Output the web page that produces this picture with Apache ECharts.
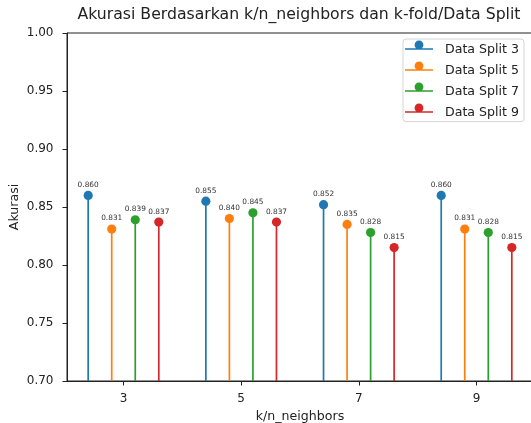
<!DOCTYPE html>
<html>
<head>
<meta charset="utf-8">
<script src="https://cdn.jsdelivr.net/npm/echarts@6/dist/echarts.min.js"></script>
<style>
  html, body { margin: 0; padding: 0; background: #fff; }
  #chart { width: 531px; height: 423px; }
</style>
</head>
<body>
<div id="chart"></div>
<script>
// k values on the x axis
const kNeighbors = [3, 5, 7, 9];
// accuracy per data split, one entry per k
const split3 = [0.860, 0.855, 0.852, 0.860];
const split5 = [0.831, 0.840, 0.835, 0.831];
const split7 = [0.839, 0.845, 0.828, 0.828];
const split9 = [0.837, 0.837, 0.815, 0.815];
const seriesNames = ['Data Split 3', 'Data Split 5', 'Data Split 7', 'Data Split 9'];
const yTicks = [0.70, 0.75, 0.80, 0.85, 0.90, 0.95, 1.00];

const allSplits = [split3, split5, split7, split9];
const colors = ['#1f77b4', '#ff7f0e', '#2ca02c', '#d62728'];
const shifts = [-0.6, -0.2, 0.2, 0.6];
const FONT = 'DejaVu Sans';
const Y_MIN = yTicks[0];

// legend glyph: baseline with the marker sitting on it; the last zero-area
// segment stretches the glyph box down so the baseline sits mid-row
const stemIcon = 'path://M0 8.4H28V9.8H0Z M9.6 5A4.4 4.4 0 1 1 18.4 5A4.4 4.4 0 1 1 9.6 5Z M14 15L14 18.2L14 15Z';

function stemRenderer(color) {
  return function (params, api) {
    const x = api.value(0);
    const v = api.value(1);
    const top = api.coord([x, v]);
    const base = api.coord([x, Y_MIN]);
    return {
      type: 'group',
      children: [
        { type: 'line', shape: { x1: top[0], y1: base[1], x2: top[0], y2: top[1] },
          style: { stroke: color, lineWidth: 1.7 } },
        { type: 'circle', shape: { cx: top[0], cy: top[1], r: 4.6 },
          style: { fill: color } },
        { type: 'text', x: top[0], y: top[1] - 7,
          style: { text: v.toFixed(3), fontSize: 7.4, fontFamily: FONT, fill: '#333',
                   align: 'center', verticalAlign: 'bottom' } }
      ]
    };
  };
}

const series = allSplits.map((vals, s) => ({
  name: seriesNames[s],
  type: 'custom',
  itemStyle: { color: colors[s] },
  renderItem: stemRenderer(colors[s]),
  data: vals.map((v, i) => [kNeighbors[i] + shifts[s], v]),
  z: 3
}));

const chart = echarts.init(document.getElementById('chart'), null, { renderer: 'canvas' });
chart.setOption({
  animation: false,
  backgroundColor: '#fff',
  textStyle: { fontFamily: FONT },
  graphic: [{
    type: 'text', x: 299, y: 15,
    style: { text: 'Akurasi Berdasarkan k/n_neighbors dan k-fold/Data Split',
             fontSize: 15.7, fontFamily: FONT, fill: '#222', align: 'center', verticalAlign: 'middle' }
  }],
  grid: { left: 67, top: 33, width: 466, height: 348, show: true,
          outerBoundsMode: 'none', containLabel: false,
          borderColor: '#222', borderWidth: 1, backgroundColor: 'transparent' },
  legend: {
    orient: 'vertical', left: 403, top: 39,
    padding: [1.5, 5, 0.5, 2],
    itemWidth: 28, itemHeight: 17.6, itemGap: 3.4,
    backgroundColor: 'rgba(255,255,255,0.85)',
    borderColor: '#d5d5d5', borderWidth: 1, borderRadius: 3,
    textStyle: { fontSize: 12.6, fontFamily: FONT, color: '#222', padding: [0, 0, 0, 7] },
    data: seriesNames.map(n => ({ name: n, icon: stemIcon }))
  },
  xAxis: {
    type: 'value', min: 2.04, max: 9.96,
    name: 'k/n_neighbors', nameLocation: 'middle', nameGap: 29,
    nameTextStyle: { fontSize: 12.6, fontFamily: FONT, color: '#222' },
    axisLine: { show: true, onZero: false, lineStyle: { color: '#222', width: 1 } },
    axisTick: { show: true, length: 4.5, lineStyle: { color: '#222' }, customValues: kNeighbors },
    axisLabel: { fontSize: 12, fontFamily: FONT, color: '#222', margin: 12, customValues: kNeighbors,
                 formatter: v => String(v) },
    splitLine: { show: false }
  },
  yAxis: {
    type: 'value', min: Y_MIN, max: yTicks[yTicks.length - 1], interval: 0.05,
    name: 'Akurasi', nameLocation: 'middle', nameGap: 46, nameRotate: 90,
    nameMoveOverlap: false,
    nameTextStyle: { fontSize: 12.6, fontFamily: FONT, color: '#222' },
    axisLine: { show: true, lineStyle: { color: '#222', width: 1 } },
    axisTick: { show: true, length: 4.5, lineStyle: { color: '#222' } },
    axisLabel: { fontSize: 12, fontFamily: FONT, color: '#222', margin: 13.5,
                 formatter: v => v.toFixed(2) },
    splitLine: { show: false }
  },
  series: series
});
</script>
</body>
</html>
